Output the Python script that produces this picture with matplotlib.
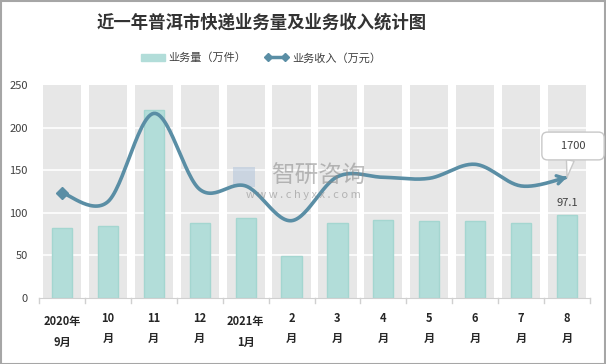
import numpy as np
import matplotlib
matplotlib.use("Agg")
import matplotlib.pyplot as plt
from matplotlib.patches import Rectangle, Patch
from matplotlib.lines import Line2D

plt.rcParams['font.family'] = ['Noto Sans CJK SC', 'DejaVu Sans']

# ---- data ----
categories = ["2020年\n9月", "10\n月", "11\n月", "12\n月", "2021年\n1月", "2\n月",
              "3\n月", "4\n月", "5\n月", "6\n月", "7\n月", "8\n月"]
volume = [82, 85, 221, 88, 94, 49, 88, 91, 90, 90, 88, 97.1]          # 万件
revenue = [1483, 1356, 2600, 1530, 1578, 1089, 1709, 1700, 1686, 1883, 1578, 1700]  # 万元
y_ticks = [0, 50, 100, 150, 200, 250]

W, H = 606, 364
fig = plt.figure(figsize=(W / 100, H / 100), dpi=100)
left, right = 39 / W, 590 / W
bottom, top = (H - 298) / H, (H - 85) / H
ax = fig.add_axes([left, bottom, right - left, top - bottom])
ax2 = ax.twinx()

n = len(categories)
x = np.arange(n)

# background columns
ax.bar(x, [250] * n, width=0.83, color='#e7e7e7', zorder=0)
for yv in y_ticks[1:-1]:
    ax.axhline(yv, color='white', lw=1.2, zorder=1)
ax.bar(x, volume, width=0.44, color='#b2ddd9', edgecolor='#a4d6d0', lw=1, zorder=2)

ax.set_xlim(-0.5, n - 0.5)
ax.set_ylim(0, 250)
ax.set_yticks(y_ticks)
ax.tick_params(axis='y', length=0, labelsize=8, colors='#404040', pad=8)
ax.set_xticks(x)
ax.set_xticklabels(categories, fontsize=8, fontweight='bold', color='#262626',
                   linespacing=1.75)
ax.tick_params(axis='x', length=0, pad=10)
for i in (0, 4):
    ax.get_xticklabels()[i].set_y(-0.015)
# boundary tick marks
for b in np.arange(-0.5, n, 1.0):
    ax.plot([b, b], [0, -5 / 0.852], color='#d0d0d0', lw=1, clip_on=False, zorder=3)
for s in ['top', 'right', 'left']:
    ax.spines[s].set_visible(False)
ax.spines['bottom'].set_color('#d0d0d0')
ax.spines['bottom'].set_zorder(3)

# ---- smoothed revenue line on secondary axis (0-3000) ----
ax2.set_ylim(0, 3000)
ax2.set_axis_off()
ax.set_zorder(1)
ax2.set_zorder(2)
ax.patch.set_visible(False)

sx, sy = 45.9, 213 / 3000.0
P = np.column_stack([x * sx, np.array(revenue) * sy])
pts = []
for i in range(n - 1):
    p0 = P[i - 1] if i > 0 else P[i]
    p1, p2 = P[i], P[i + 1]
    p3 = P[i + 2] if i + 2 < n else P[i + 1]
    c1 = p1 + (p2 - p0) / 6
    c2 = p2 - (p3 - p1) / 6
    t = np.linspace(0, 1, 30)[:, None]
    seg = (1 - t) ** 3 * p1 + 3 * (1 - t) ** 2 * t * c1 + 3 * (1 - t) * t ** 2 * c2 + t ** 3 * p2
    pts.append(seg if i == 0 else seg[1:])
curve = np.vstack(pts)
cx, cy = curve[:, 0] / sx, curve[:, 1] / sy
lc = '#5a8ea5'
ax2.plot(cx[:-3], cy[:-3], color=lc, lw=2.6, solid_capstyle='round', zorder=5)
ax2.plot([x[0]], [revenue[0]], marker='D', ms=6, color=lc, zorder=6)
ax2.annotate('', xy=(x[-1], revenue[-1]), xytext=(cx[-5], cy[-5]),
             arrowprops=dict(arrowstyle='->,head_length=0.5,head_width=0.3', color=lc, lw=2.4),
             zorder=6)

# labels
ax.text(x[-1], volume[-1] + 8, f"{volume[-1]}", ha='center', va='bottom', fontsize=8,
        color='#404040', zorder=7)
ax2.annotate("    " + f"{revenue[-1]}" + "    ", xy=(x[-1], revenue[-1]), xytext=(573, H - 146),
             textcoords='figure pixels', ha='center', va='center', fontsize=8,
             color='#404040',
             bbox=dict(boxstyle='round,pad=0.8,rounding_size=0.5', fc='white', ec='#c8c8c8',
                       lw=1),
             arrowprops=dict(arrowstyle='wedge,tail_width=0.7,shrink_factor=0.5', fc='white',
                             ec='#c8c8c8', lw=1, shrinkA=0, shrinkB=0),
             zorder=8, annotation_clip=False)

# watermark
fig.text(318, H - 176, "智研咨询", fontsize=17, color='#888888', alpha=0.55,
         ha='center', va='center', transform=None)
fig.text(303, H - 195, "w w w . c h y x x . c o m", fontsize=8, color='#888888', alpha=0.55,
         ha='center', va='center', transform=None)
fig.patches.append(Rectangle((233, H - 187), 22, 20, transform=None, fc='#b8c8dc',
                             alpha=0.6, ec='none'))

# title
fig.text(262 / W, 1 - 23 / H, "近一年普洱市快递业务量及业务收入统计图", ha='center', va='center',
         fontsize=12.5, fontweight='bold', color='#333333')

# legend
handles = [Patch(facecolor='#b2ddd9', edgecolor='#b2ddd9'),
           Line2D([0], [0], color=lc, lw=2.5, marker='D', ms=4)]
fig.legend(handles, ["业务量（万件）", "业务收入（万元）"], loc='center',
           bbox_to_anchor=(261 / W, 1 - 58 / H), ncol=2, frameon=False, fontsize=8,
           handlelength=2.2, handletextpad=0.3, columnspacing=1.6, labelcolor='#404040',
           numpoints=2)

# border
fig.patches.append(Rectangle((0.5, 0.5), W - 1.5, H - 1.5, transform=None, fill=False,
                             ec='#a6a6a6', lw=1.5))

fig.savefig("out.png", dpi=100)
